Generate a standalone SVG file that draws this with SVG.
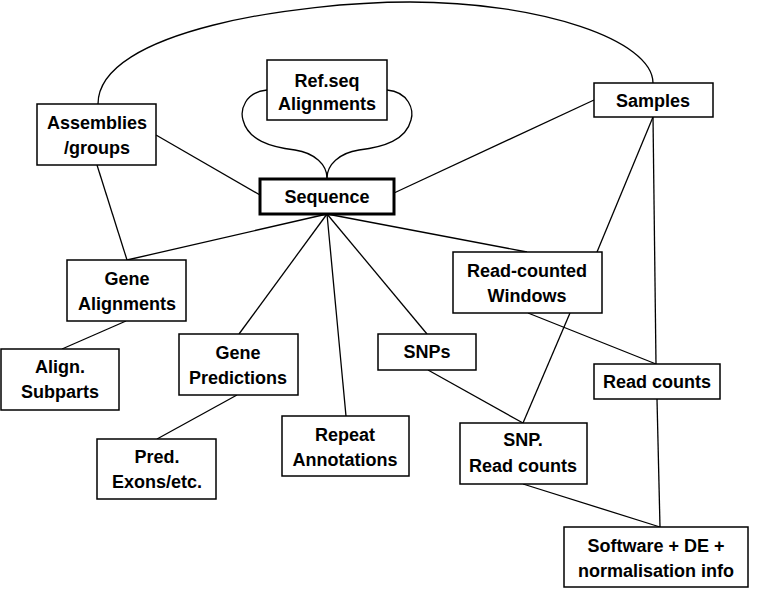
<svg xmlns="http://www.w3.org/2000/svg" width="758" height="595" viewBox="0 0 758 595">
<style>
.box{fill:#fff;stroke:#000;stroke-width:1.5}
.main{fill:#fff;stroke:#000;stroke-width:3}
.lbl{font-family:"Liberation Sans",Arial,sans-serif;font-weight:bold;font-size:18px;text-anchor:middle;fill:#000}
.ln{fill:none;stroke:#000;stroke-width:1.3}
</style>
<rect width="758" height="595" fill="#fff"/>
<g id="connectors" class="ln">
<path d="M98,104 C98,30 300,2 410,2 C540,2 653,40 653,83"/>
<path d="M267,90 C245,92 240,110 243,120 C248,140 270,147 295,150 C315,153 327,165 327,178"/>
<path d="M387,90 C409,92 414,110 411,120 C406,140 384,147 359,150 C339,153 327,165 327,178"/>
<line x1="156" y1="135" x2="260" y2="195"/>
<line x1="394" y1="193" x2="594" y2="100"/>
<line x1="97" y1="165" x2="127" y2="260"/>
<line x1="327" y1="214" x2="127" y2="260"/>
<line x1="327" y1="214" x2="239" y2="334"/>
<line x1="327" y1="214" x2="346" y2="416"/>
<line x1="327" y1="214" x2="427" y2="334"/>
<line x1="327" y1="214" x2="527" y2="252"/>
<line x1="653" y1="117" x2="597" y2="252"/>
<line x1="653" y1="117" x2="656" y2="364"/>
<line x1="657" y1="399" x2="660" y2="527"/>
<line x1="528" y1="313" x2="656" y2="364"/>
<line x1="570" y1="313" x2="523" y2="423"/>
<line x1="428" y1="370" x2="523" y2="423"/>
<line x1="523" y1="484" x2="660" y2="527"/>
<line x1="126" y1="321" x2="62" y2="349"/>
<line x1="237" y1="395" x2="157" y2="439"/>
</g>
<g id="assemblies"><rect class="box" x="37" y="104" width="119" height="61"/><text class="lbl" x="97" y="129">Assemblies</text><text class="lbl" x="97" y="154">/groups</text></g>
<g id="refseq"><rect class="box" x="267" y="60" width="120" height="60"/><text class="lbl" x="327" y="87">Ref.seq</text><text class="lbl" x="327" y="110">Alignments</text></g>
<g id="sequence"><rect class="main" x="260" y="179" width="134" height="35"/><text class="lbl" x="327" y="203">Sequence</text></g>
<g id="samples"><rect class="box" x="594" y="83" width="119" height="34"/><text class="lbl" x="653" y="107">Samples</text></g>
<g id="gene-alignments"><rect class="box" x="67" y="260" width="119" height="61"/><text class="lbl" x="127" y="285">Gene</text><text class="lbl" x="127" y="310">Alignments</text></g>
<g id="align-subparts"><rect class="box" x="1" y="349" width="118" height="61"/><text class="lbl" x="60" y="373">Align.</text><text class="lbl" x="60" y="398">Subparts</text></g>
<g id="gene-predictions"><rect class="box" x="179" y="334" width="119" height="61"/><text class="lbl" x="238" y="359">Gene</text><text class="lbl" x="238" y="384">Predictions</text></g>
<g id="pred-exons"><rect class="box" x="97" y="439" width="119" height="60"/><text class="lbl" x="157" y="463">Pred.</text><text class="lbl" x="157" y="488">Exons/etc.</text></g>
<g id="repeat-annotations"><rect class="box" x="282" y="416" width="127" height="60"/><text class="lbl" x="345" y="441">Repeat</text><text class="lbl" x="345" y="466">Annotations</text></g>
<g id="snps"><rect class="box" x="378" y="334" width="98" height="36"/><text class="lbl" x="427" y="358">SNPs</text></g>
<g id="read-counted-windows"><rect class="box" x="453" y="252" width="149" height="61"/><text class="lbl" x="527" y="277">Read-counted</text><text class="lbl" x="527" y="302">Windows</text></g>
<g id="read-counts"><rect class="box" x="594" y="364" width="126" height="35"/><text class="lbl" x="657" y="388">Read counts</text></g>
<g id="snp-read-counts"><rect class="box" x="460" y="423" width="127" height="61"/><text class="lbl" x="523" y="446">SNP.</text><text class="lbl" x="523" y="472">Read counts</text></g>
<g id="software"><rect class="box" x="564" y="527" width="184" height="60"/><text class="lbl" x="656" y="552">Software + DE +</text><text class="lbl" x="656" y="577">normalisation info</text></g>
</svg>
